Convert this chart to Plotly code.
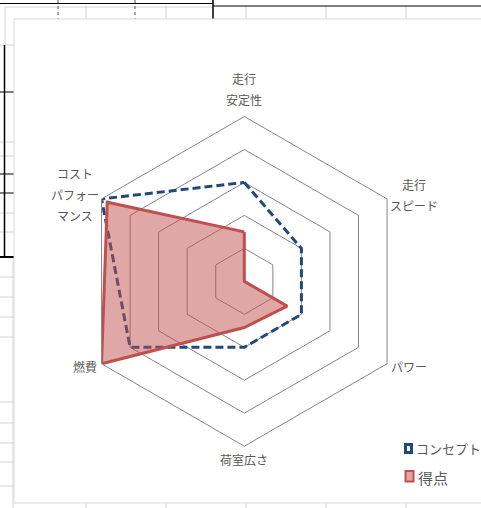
import math
import plotly.graph_objects as go

# ---- data ----
categories = ["走行<br>安定性", "走行<br>スピード", "パワー", "荷室広さ", "燃費", "コスト<br>パフォー<br>マンス"]
concept = [3, 2, 2, 2, 4, 5]
score = [1.5, 0, 1.5, 1.4, 5, 4.8]
series_names = ["コンセプト", "得点"]
r_max = 5

W, H = 481, 508
FONT = "Noto Sans CJK JP, Noto Sans, sans-serif"
TXT = "#595959"
GRID = "#868686"
BLUE = "#1F497D"
RED = "#C0504D"
RED_FILL = "rgba(192,80,77,0.5)"

def px(x):
    return x / W

def py(y):
    return 1 - y / H

def closed(v):
    return list(v) + [v[0]]

fig = go.Figure()

fig.add_trace(go.Scatterpolar(
    r=closed(concept), theta=closed(categories), mode="lines", name=series_names[0],
    line=dict(color=BLUE, width=3, dash="8px,4px"),
    showlegend=False, hoverinfo="skip"))
fig.add_trace(go.Scatterpolar(
    r=closed(score), theta=closed(categories), mode="lines", fill="toself", name=series_names[1],
    fillcolor=RED_FILL,
    line=dict(color=RED, width=3),
    showlegend=False, hoverinfo="skip"))

# ---- spreadsheet background decoration ----
shapes = []
def line(x0, y0, x1, y1, color="#d4d4d4", width=1, dash=None, layer="below"):
    d = dict(type="line", xref="paper", yref="paper",
             x0=px(x0), y0=py(y0), x1=px(x1), y1=py(y1),
             line=dict(color=color, width=width), layer=layer)
    if dash:
        d["line"]["dash"] = dash
    shapes.append(d)

for gx in [86, 166, 246, 326, 406]:
    line(gx, 6, gx, 19)
    line(gx, 503, gx, 508)
line(5, 7, 213, 7)
line(5, 7, 5, 45)
for gy in [45, 142, 156, 213, 232, 277, 297, 317, 337, 402, 423, 443, 462, 486]:
    line(0, gy, 14, gy)
line(13, 258, 13, 508)
# black lines
line(0, 3.5, 213, 3.5, "#000000", 1)
line(213, 6, 481, 6, "#000000", 1)
line(213, 0, 213, 19, "#000000", 1.5)
line(4.5, 45, 4.5, 257, "#000000", 1.5)
for gy in [92, 174, 193]:
    line(0, gy, 14, gy, "#000000", 1)
line(0, 257, 14, 257, "#000000", 2)
line(58, 0, 58, 19, "#555555", 1, "dot")
line(135, 0, 135, 19, "#555555", 1, "dot")
# chart area
shapes.append(dict(type="rect", xref="paper", yref="paper",
                   x0=px(14), y0=py(503), x1=px(490), y1=py(19),
                   line=dict(color="#d9d9d9", width=1), fillcolor="white", layer="below"))

# ---- legend (drawn as keys + text) ----
shapes.append(dict(type="rect", xref="paper", yref="paper",
                   x0=px(405.5), y0=py(452.5), x1=px(411.5), y1=py(444.5),
                   line=dict(color=BLUE, width=3), fillcolor="rgba(0,0,0,0)", layer="above"))
shapes.append(dict(type="rect", xref="paper", yref="paper",
                   x0=px(405.5), y0=py(481.5), x1=px(413.5), y1=py(471),
                   line=dict(color=RED, width=2), fillcolor="rgb(222,165,164)", layer="above"))
annotations = [
    dict(text=series_names[0], x=px(414), y=py(448.5), xref="paper", yref="paper",
         xanchor="left", yanchor="middle", showarrow=False,
         font=dict(size=13, color=TXT, family=FONT)),
    dict(text=series_names[1], x=px(416), y=py(477.5), xref="paper", yref="paper",
         xanchor="left", yanchor="middle", showarrow=False,
         font=dict(size=15, color=TXT, family=FONT)),
]

# polar geometry (pixels)
cx, cy, R = 244.3, 281.35, 164.85

# ---- category labels placed around the outer ring, Excel-style line spacing ----
LINE_H = 21
GAP = 7
CHAR_W = 10
n_cat = len(categories)
for i, cat in enumerate(categories):
    a = 2 * math.pi * i / n_cat
    vx = cx + R * math.sin(a)
    vy = cy - R * math.cos(a)
    lines = cat.split("<br>")
    n = len(lines)
    half_w = max(len(s) for s in lines) * CHAR_W / 2
    s, c = math.sin(a), math.cos(a)
    if abs(s) < 1e-6:  # top or bottom
        bx = vx
        by = vy - (GAP + n * LINE_H / 2) if c > 0 else vy + (GAP + n * LINE_H / 2) - 4
    else:
        bx = vx + (GAP + half_w) * (1 if s > 0 else -1)
        by = vy + (-4 if c > 0 else 3)
    for k, txt in enumerate(lines):
        ly = by + (k - (n - 1) / 2) * LINE_H
        annotations.append(dict(text=txt, x=px(bx), y=py(ly), xref="paper", yref="paper",
                                xanchor="center", yanchor="middle", showarrow=False,
                                font=dict(size=12, color=TXT, family=FONT)))

fig.update_layout(
    width=W, height=H,
    margin=dict(l=0, r=0, t=0, b=0),
    paper_bgcolor="white",
    font=dict(family=FONT, color=TXT, size=12),
    shapes=shapes,
    annotations=annotations,
    showlegend=False,
    polar=dict(
        domain=dict(x=[px(cx - R), px(cx + R)], y=[py(cy + R), py(cy - R)]),
        bgcolor="rgba(0,0,0,0)",
        gridshape="linear",
        radialaxis=dict(range=[0, r_max], dtick=1, showticklabels=False, ticks="",
                        showline=False, gridcolor=GRID, gridwidth=1),
        angularaxis=dict(direction="clockwise", rotation=90, showgrid=False,
                         showline=True, linecolor=GRID, linewidth=1, ticks="",
                         showticklabels=False,
                         categoryorder="array", categoryarray=categories),
    ),
)

fig.write_html("out.html")
